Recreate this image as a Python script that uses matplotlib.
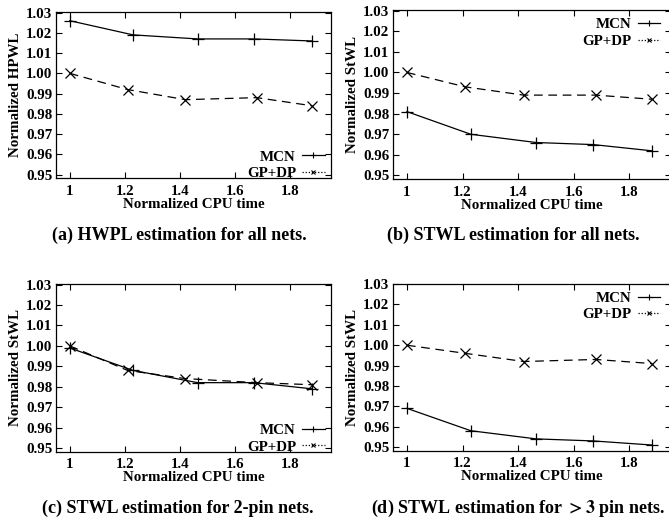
import matplotlib
matplotlib.use("Agg")
import matplotlib.pyplot as plt
from matplotlib.lines import Line2D

plt.rcParams['font.family'] = ['Liberation Serif', 'DejaVu Serif']
plt.rcParams['font.weight'] = 'bold'
plt.rcParams['mathtext.fontset'] = 'stix'

# ---- data ----
mcn_x = [1.0, 1.23, 1.465, 1.67, 1.88]
gp_x = [1.0, 1.21, 1.42, 1.68, 1.88]

a_mcn = [1.026, 1.019, 1.017, 1.017, 1.016]
a_gp = [1.000, 0.992, 0.987, 0.988, 0.984]
b_mcn = [0.981, 0.970, 0.966, 0.965, 0.962]
b_gp = [1.000, 0.993, 0.989, 0.989, 0.987]
c_mcn = [0.999, 0.988, 0.982, 0.982, 0.979]
c_gp = [1.000, 0.988, 0.984, 0.982, 0.981]
d_mcn = [0.969, 0.958, 0.954, 0.953, 0.951]
d_gp = [1.000, 0.996, 0.992, 0.993, 0.991]

xticks = [1, 1.2, 1.4, 1.6, 1.8]
xticklabels = ['1', '1.2', '1.4', '1.6', '1.8']
yticks = [0.95, 0.96, 0.97, 0.98, 0.99, 1.00, 1.01, 1.02, 1.03]
yticklabels = ['0.95', '0.96', '0.97', '0.98', '0.99', '1.00', '1.01', '1.02', '1.03']

ylabels = ['Normalized HPWL', 'Normalized StWL', 'Normalized StWL', 'Normalized StWL']
captions = ['(a) HWPL estimation for all nets.',
            '(b) STWL estimation for all nets.',
            '(c) STWL estimation for 2-pin nets.',
            '(d) STWL estimation for $>3$ pin nets.']
legend_locs = ['lower right', 'upper right', 'lower right', 'upper right']

W, H = 669, 519
fig = plt.figure(figsize=(W / 100, H / 100), dpi=100)

# axes rectangles in pixels: left, top, right, bottom
rects = [(56, 12, 331, 178), (393, 10, 671, 179),
         (56, 284, 331, 451.5), (393, 283.5, 671, 450.5)]
cap_pos = [(179, 235), (513, 235), (178, 508), (518, 508)]
leg_anchor = [(0.99, -0.035), (0.975, 0.975), (0.99, -0.035), (0.975, 0.975)]

series = [(a_mcn, a_gp), (b_mcn, b_gp), (c_mcn, c_gp), (d_mcn, d_gp)]
FS = 10.8

for i, (l, t, r, b) in enumerate(rects):
    ax = fig.add_axes([l / W, 1 - b / H, (r - l) / W, (b - t) / H])
    mcn, gp = series[i]
    ax.plot(mcn_x, mcn, color='black', lw=0.9, marker='+', ms=9, mew=0.9)
    ax.plot(gp_x, gp, color='black', lw=0.9, ls=(0, (7, 4.5)), marker='x', ms=7.5, mew=0.9)
    ax.set_xlim(0.95, 1.95)
    ax.set_ylim(0.9483, 1.0303)
    ax.set_xticks(xticks)
    ax.set_xticklabels(xticklabels)
    ax.set_yticks(yticks)
    ax.set_yticklabels(yticklabels)
    ax.tick_params(direction='in', top=True, right=True, length=4, width=0.8,
                   labelsize=FS)
    ax.tick_params(axis='x', pad=5)
    ax.tick_params(axis='y', pad=2.5)
    for lab in ax.get_xticklabels() + ax.get_yticklabels():
        lab.set_fontweight('bold')
    for s in ax.spines.values():
        s.set_linewidth(0.9)
    ax.set_xlabel('Normalized CPU time', fontsize=FS, fontweight='bold', labelpad=0)
    ax.set_ylabel(ylabels[i], fontsize=FS, fontweight='bold', labelpad=3)
    handles = [Line2D([], [], color='black', lw=0.9, marker='+', ms=5, mew=0.8),
               Line2D([], [], color='black', lw=0.9, ls=(0, (1, 1.5)), marker='x', ms=3.5, mew=0.8)]
    ax.legend(handles, ['MCN', 'GP+DP'], loc=legend_locs[i], markerfirst=False,
              bbox_to_anchor=leg_anchor[i],
              frameon=False, handlelength=1.5, handletextpad=0.4,
              labelspacing=0.2, borderaxespad=0.15, borderpad=0.1,
              prop={'weight': 'bold', 'size': FS})
    cx, cy = cap_pos[i]
    fig.text(cx / W, 1 - cy / H, captions[i], ha='center', va='center',
             fontsize=13, fontweight='bold')

fig.savefig('out.png', dpi=100)
